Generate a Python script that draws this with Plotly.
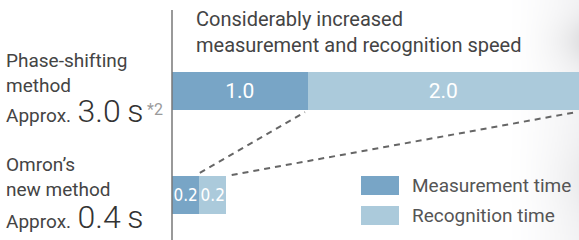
import base64
import struct
import zlib

import numpy as np
import plotly.graph_objects as go

methods = ["Omron’s new method", "Phase-shifting method"]
measurement = [0.2, 1.0]
recognition = [0.2, 2.0]
totals = ["0.4", "3.0"]
footnote = "*2"
series_names = ["Measurement time", "Recognition time"]
colors = ["#78a5c6", "#abcadb"]

ypos = [0, 1]
bar_w = 0.365


def soft_backdrop_png(w=90, h=240):
    """Faint blurred grey backdrop at the right edge (decoration only)."""
    xs = np.linspace(0, 1, w)[None, :]
    ys = np.linspace(0, 1, h)[:, None]
    alpha = np.clip((xs - 0.15) / 0.85, 0, 1) ** 1.5 * 0.55
    shade = 232 - 30 * np.exp(-((ys - 0.17) / 0.1) ** 2) * xs ** 2 \
        - 12 * np.exp(-((ys - 0.75) / 0.15) ** 2) * xs
    shade = np.broadcast_to(shade, (h, w))
    alpha = np.broadcast_to(alpha, (h, w))
    rgba = np.zeros((h, w, 4), dtype=np.uint8)
    rgba[..., 0] = np.clip(shade, 0, 255)
    rgba[..., 1] = np.clip(shade, 0, 255)
    rgba[..., 2] = np.clip(shade + 3, 0, 255)
    rgba[..., 3] = np.clip(alpha * 255, 0, 255)
    raw = b"".join(b"\x00" + rgba[r].tobytes() for r in range(h))

    def chunk(tag, data):
        c = struct.pack(">I", len(data)) + tag + data
        return c + struct.pack(">I", zlib.crc32(tag + data) & 0xFFFFFFFF)

    png = b"\x89PNG\r\n\x1a\n" + chunk(b"IHDR", struct.pack(">IIBBBBB", w, h, 8, 6, 0, 0, 0)) \
        + chunk(b"IDAT", zlib.compress(raw)) + chunk(b"IEND", b"")
    return "data:image/png;base64," + base64.b64encode(png).decode()


fig = go.Figure()
for vals, nm, c in [(measurement, series_names[0], colors[0]),
                    (recognition, series_names[1], colors[1])]:
    fig.add_trace(go.Bar(
        y=ypos, x=vals, orientation="h", width=bar_w,
        marker=dict(color=c, line=dict(width=0)),
        name=nm,
        text=[f"{v:.1f}" for v in vals], textposition="inside",
        insidetextanchor="middle", textangle=0,
        textfont=dict(color="white",
                      family=["DejaVu Sans Condensed", "Roboto"],
                      size=[17, 21]),
        constraintext="none",
        showlegend=False,
    ))

fig.update_layout(
    barmode="stack",
    width=579, height=240,
    margin=dict(l=172, r=0, t=0, b=0),
    paper_bgcolor="white", plot_bgcolor="rgba(0,0,0,0)",
    font=dict(family="Roboto", color="#444"),
    xaxis=dict(range=[0, 3.0], visible=False, fixedrange=True),
    yaxis=dict(range=[-0.4327, 1.875], visible=False, fixedrange=True),
    uniformtext=dict(mode=False),
    images=[dict(source=soft_backdrop_png(), xref="paper", yref="paper",
                 x=1, y=1, sizex=90 / 407, sizey=1, xanchor="right", yanchor="top",
                 sizing="stretch", layer="below")],
)

# vertical axis line
fig.add_shape(type="line", xref="paper", yref="paper", x0=0, x1=0,
              y0=0, y1=(240 - 10) / 240, line=dict(color="#777", width=1.5))

# dashed connectors between bars
half = bar_w / 2
fig.add_shape(type="line", xref="x", yref="y",
              x0=measurement[0] + 0.005, y0=ypos[0] + half + 0.03,
              x1=measurement[1] - 0.02, y1=ypos[1] - half - 0.02,
              line=dict(color="#666", width=2, dash="6px,5px"))
fig.add_shape(type="line", xref="x", yref="y",
              x0=measurement[0] + recognition[0] + 0.04, y0=ypos[0] + half + 0.01,
              x1=measurement[1] + recognition[1] - 0.02, y1=ypos[1] - half - 0.02,
              line=dict(color="#666", width=2, dash="6px,5px"))

# title
fig.add_annotation(xref="paper", yref="paper", x=(194 - 172) / 407, y=1 - 5 / 240,
                   xanchor="left", yanchor="top", align="left", showarrow=False,
                   text="Considerably increased<br>measurement and recognition speed",
                   font=dict(size=20, color="#444", family="Roboto"))

# left labels
LX = -168 / 407


def left_label(lines, y_top):
    fig.add_annotation(xref="paper", yref="paper", x=LX, y=1 - y_top / 240,
                       xanchor="left", yanchor="top", align="left", showarrow=False,
                       text="<br>".join(lines),
                       font=dict(size=19, color="#444", family="Roboto"))


left_label(["Phase-shifting", "method"], 47)
left_label(["Omron’s", "new method"], 151)


def approx_label(total, y_bottom):
    t = ("Approx.<span style='font-size:32px;font-weight:300;color:#333'>&#8201;" + total +
         "&#8201;s</span>")
    fig.add_annotation(xref="paper", yref="paper", x=LX, y=1 - y_bottom / 240,
                       xanchor="left", yanchor="bottom", align="left", showarrow=False,
                       text=t, font=dict(size=19, color="#444", family="Roboto"))


approx_label(totals[1], 132)
approx_label(totals[0], 238)
fig.add_annotation(xref="paper", yref="paper", x=(145 - 172) / 407, y=1 - 121 / 240,
                   xanchor="left", yanchor="bottom", showarrow=False, text=footnote,
                   font=dict(size=16, color="#9a9a9a", family="Roboto"))

# legend
for i, (nm, c) in enumerate(zip(series_names, colors)):
    y0 = 176 + i * 30
    fig.add_shape(type="rect", xref="paper", yref="paper",
                  x0=(361 - 172) / 407, x1=(399 - 172) / 407,
                  y0=1 - (y0 + 19) / 240, y1=1 - y0 / 240,
                  fillcolor=c, line=dict(width=0))
    fig.add_annotation(xref="paper", yref="paper", x=(410 - 172) / 407,
                       y=1 - (y0 + 9.5) / 240, xanchor="left", yanchor="middle",
                       showarrow=False, text=nm,
                       font=dict(size=19, color="#555", family="Roboto"))

fig.write_html("out.html", config={"displayModeBar": False},
               post_script="document.body.style.margin='0';document.body.style.overflow='hidden';")
